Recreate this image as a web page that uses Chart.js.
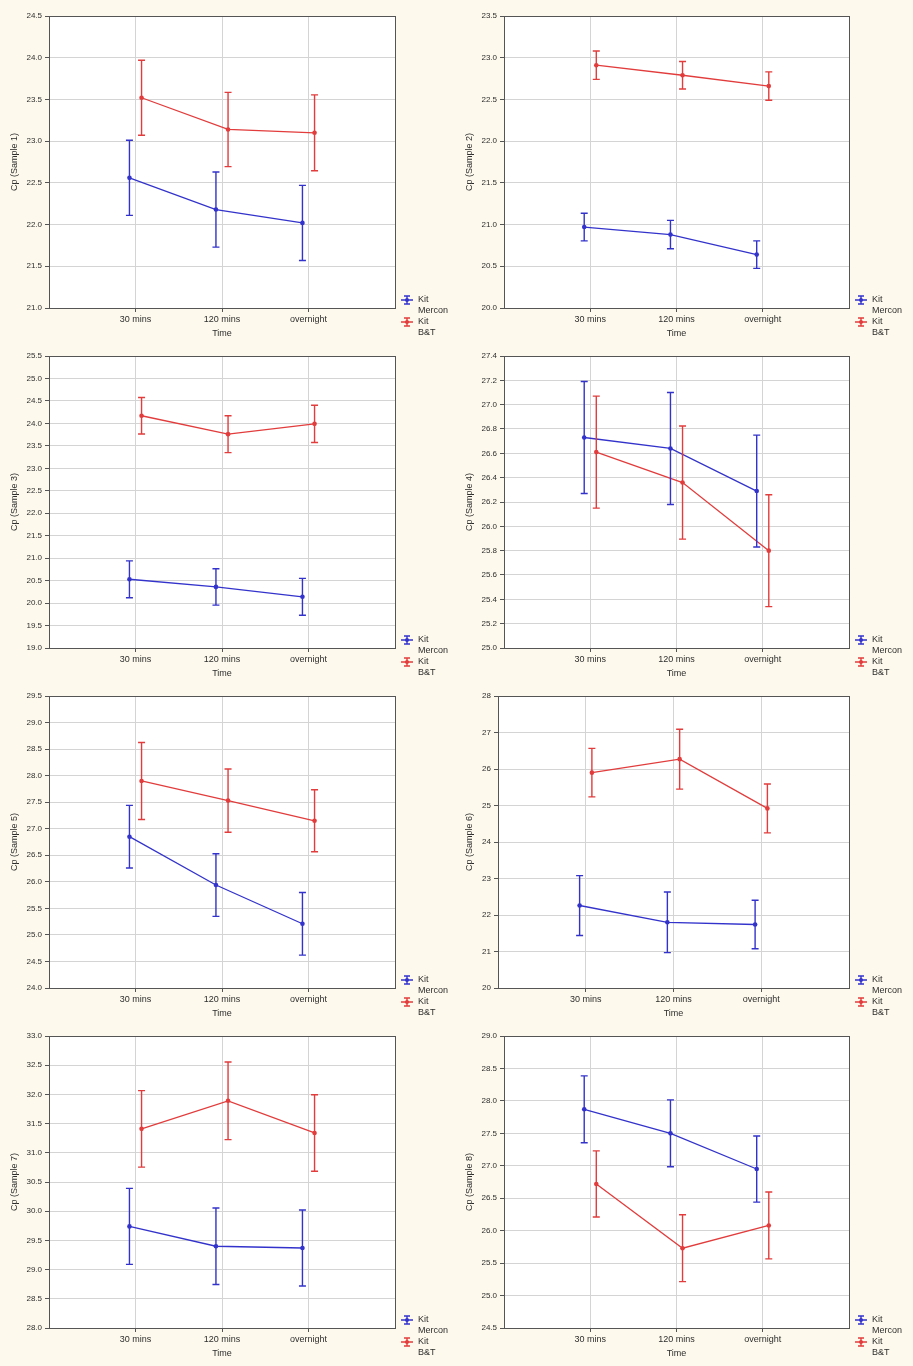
<!DOCTYPE html>
<html>
<head>
<meta charset="utf-8">
<script src="https://cdn.jsdelivr.net/npm/chart.js@4.4.1/dist/chart.umd.min.js"></script>
<style>
  html, body { margin: 0; padding: 0; background: #fdf9ec; }
  #wrap { position: relative; width: 913px; height: 1366px; overflow: hidden; }
  #wrap canvas { position: absolute; }
</style>
</head>
<body>
<div id="wrap"></div>
<script>
// ── Data ─────────────────────────────────────────────────────────────────────
const TIMES = ['30 mins', '120 mins', 'overnight']
const SAMPLES = ['Cp (Sample 1)', 'Cp (Sample 2)', 'Cp (Sample 3)', 'Cp (Sample 4)',
  'Cp (Sample 5)', 'Cp (Sample 6)', 'Cp (Sample 7)', 'Cp (Sample 8)']

// one row per sample, one value per time point
const MERCON_MEAN = [
  [22.56, 22.18, 22.02],
  [20.97, 20.88, 20.64],
  [20.53, 20.36, 20.14],
  [26.73, 26.64, 26.29],
  [26.85, 25.94, 25.21],
  [22.26, 21.80, 21.74],
  [29.74, 29.40, 29.37],
  [27.87, 27.50, 26.95]
]
const MERCON_ERR = [
  [0.45, 0.45, 0.45],
  [0.165, 0.17, 0.165],
  [0.41, 0.405, 0.41],
  [0.46, 0.46, 0.46],
  [0.59, 0.59, 0.59],
  [0.82, 0.83, 0.665],
  [0.65, 0.655, 0.65],
  [0.515, 0.515, 0.51]
]
const BT_MEAN = [
  [23.52, 23.14, 23.10],
  [22.91, 22.79, 22.66],
  [24.17, 23.76, 23.99],
  [26.61, 26.36, 25.80],
  [27.90, 27.53, 27.15],
  [25.90, 26.27, 24.92],
  [31.41, 31.89, 31.34],
  [26.72, 25.73, 26.08]
]
const BT_ERR = [
  [0.45, 0.445, 0.455],
  [0.17, 0.165, 0.17],
  [0.405, 0.41, 0.415],
  [0.46, 0.465, 0.46],
  [0.725, 0.595, 0.585],
  [0.665, 0.82, 0.67],
  [0.655, 0.665, 0.655],
  [0.51, 0.515, 0.515]
]

const Y_MIN = [21.0, 20.0, 19.0, 25.0, 24.0, 20, 28.0, 24.5]
const Y_MAX = [24.5, 23.5, 25.5, 27.4, 29.5, 28, 33.0, 29.0]
const Y_STEP = [0.5, 0.5, 0.5, 0.2, 0.5, 1, 0.5, 0.5]
const Y_DECIMALS = [1, 1, 1, 1, 1, 0, 1, 1]

// ── Style ────────────────────────────────────────────────────────────────────
const BLUE = '#3333cc'
const RED = '#e23c3c'
const TEXT = '#2e2e2e'
const FAMILY = '"Liberation Sans", Arial, sans-serif'
const FONT = { family: FAMILY, size: 9 }
const TICK_FONT = { family: FAMILY, size: 8 }

// error bars, plot frame and the little legend
const statPlot = {
  id: 'statPlot',
  beforeDraw(chart) {
    const { ctx, chartArea: a } = chart
    ctx.save()
    ctx.fillStyle = '#ffffff'
    ctx.fillRect(a.left, a.top, a.right - a.left, a.bottom - a.top)
    ctx.restore()
  },
  afterDatasetsDraw(chart) {
    const { ctx, scales: { x, y } } = chart
    chart.data.datasets.forEach(ds => {
      ctx.save()
      ctx.strokeStyle = ds.borderColor
      ctx.lineWidth = 1.4
      ds.data.forEach((p, j) => {
        const px = x.getPixelForValue(p.x)
        const top = y.getPixelForValue(p.y + ds.errors[j])
        const bot = y.getPixelForValue(p.y - ds.errors[j])
        ctx.beginPath()
        ctx.moveTo(px, top); ctx.lineTo(px, bot)
        ctx.moveTo(px - 3.5, top); ctx.lineTo(px + 3.5, top)
        ctx.moveTo(px - 3.5, bot); ctx.lineTo(px + 3.5, bot)
        ctx.stroke()
      })
      ctx.restore()
    })
  },
  afterDraw(chart) {
    const { ctx, chartArea: a } = chart
    ctx.save()
    ctx.strokeStyle = '#555555'
    ctx.lineWidth = 1
    ctx.strokeRect(Math.round(a.left) + 0.5, Math.round(a.top) + 0.5,
      Math.round(a.right - a.left), Math.round(a.bottom - a.top))

    const sx = a.right + 6
    const tx = a.right + 23
    const rows = [
      { y: a.bottom - 8, color: BLUE, lines: ['Kit', 'Mercon'] },
      { y: a.bottom + 14, color: RED, lines: ['Kit', 'B&T'] }
    ]
    ctx.font = `${FONT.size}px ${FONT.family}`
    ctx.textBaseline = 'middle'
    ctx.textAlign = 'left'
    rows.forEach(r => {
      ctx.strokeStyle = r.color
      ctx.fillStyle = r.color
      ctx.lineWidth = 1.4
      ctx.beginPath()
      ctx.moveTo(sx, r.y); ctx.lineTo(sx + 12, r.y)
      ctx.moveTo(sx + 6, r.y - 4); ctx.lineTo(sx + 6, r.y + 4)
      ctx.moveTo(sx + 3, r.y - 4); ctx.lineTo(sx + 9, r.y - 4)
      ctx.moveTo(sx + 3, r.y + 4); ctx.lineTo(sx + 9, r.y + 4)
      ctx.stroke()
      ctx.beginPath()
      ctx.arc(sx + 6, r.y, 2, 0, Math.PI * 2)
      ctx.fill()
      ctx.fillStyle = TEXT
      ctx.fillText(r.lines[0], tx, r.y)
      ctx.fillText(r.lines[1], tx, r.y + 11)
    })
    ctx.restore()
  }
}

function series(label, means, errs, color, shift) {
  return {
    label,
    data: means.map((m, j) => ({ x: j + 1 + shift, y: m })),
    errors: errs,
    borderColor: color,
    backgroundColor: color,
    borderWidth: 1.3,
    pointRadius: 2.3,
    pointBackgroundColor: color,
    pointBorderWidth: 0,
    tension: 0
  }
}

function buildConfig(i, yWidth, padRight) {
  const ymin = Y_MIN[i], ymax = Y_MAX[i], step = Y_STEP[i]
  return {
    type: 'line',
    data: {
      datasets: [
        series('Kit Mercon', MERCON_MEAN[i], MERCON_ERR[i], BLUE, -0.07),
        series('Kit B&T', BT_MEAN[i], BT_ERR[i], RED, 0.07)
      ]
    },
    options: {
      responsive: false,
      animation: false,
      events: [],
      layout: { padding: { top: 16, right: padRight, bottom: 0, left: 0 } },
      plugins: { legend: { display: false }, tooltip: { enabled: false } },
      scales: {
        x: {
          type: 'linear',
          min: 0,
          max: 4,
          afterBuildTicks: s => { s.ticks = [1, 2, 3].map(v => ({ value: v })) },
          afterFit: s => { s.height = 33 },
          ticks: {
            autoSkip: false, maxRotation: 0, padding: 2, color: TEXT, font: FONT,
            callback: v => TIMES[v - 1]
          },
          grid: { color: '#d4d4d4', tickColor: '#555555', tickLength: 4 },
          border: { display: false },
          title: { display: true, text: 'Time', color: TEXT, font: FONT, padding: { top: 0, bottom: 2 } }
        },
        y: {
          min: ymin,
          max: ymax,
          afterBuildTicks: s => {
            const n = Math.round((ymax - ymin) / step)
            const t = []
            for (let k = 0; k <= n; k++) t.push({ value: +(ymin + k * step).toFixed(2) })
            s.ticks = t
          },
          afterFit: s => { s.width = yWidth },
          ticks: {
            padding: 3, color: TEXT, font: TICK_FONT,
            callback: v => v.toFixed(Y_DECIMALS[i])
          },
          grid: { color: '#d4d4d4', tickColor: '#555555', tickLength: 4 },
          border: { display: false },
          title: { display: true, text: SAMPLES[i], color: TEXT, font: FONT, padding: { top: 9, bottom: 0 } }
        }
      }
    },
    plugins: [statPlot]
  }
}

// ── Layout: 4 rows x 2 columns ───────────────────────────────────────────────
const wrap = document.getElementById('wrap')
SAMPLES.forEach((name, i) => {
  const col = i % 2
  const row = Math.floor(i / 2)
  const canvas = document.createElement('canvas')
  const w = col === 0 ? 456 : 458
  canvas.width = w
  canvas.height = 341
  canvas.style.left = (col * 455) + 'px'
  canvas.style.top = (row * 340) + 'px'
  wrap.appendChild(canvas)
  const yWidth = Y_DECIMALS[i] === 0 ? 43 : 49
  const padRight = w - 395 + (col === 0 ? 0 : 1)
  new Chart(canvas.getContext('2d'), buildConfig(i, yWidth, padRight))
})
</script>
</body>
</html>
